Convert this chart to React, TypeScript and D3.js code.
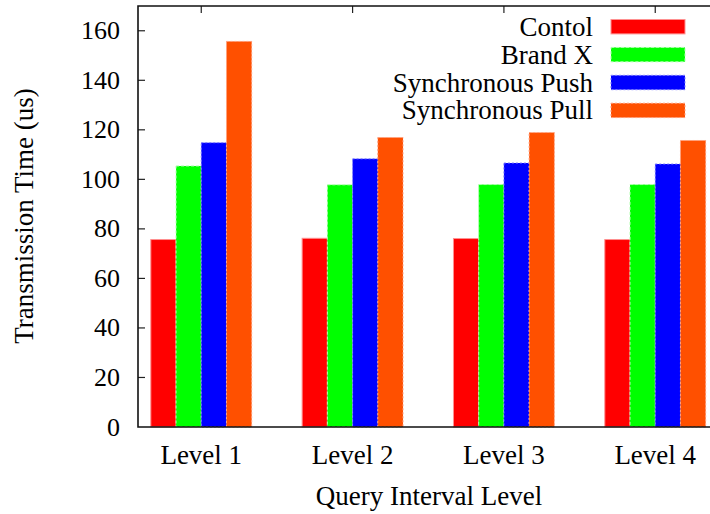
import React from "react";
import * as d3 from "d3";

const categories = ["Level 1", "Level 2", "Level 3", "Level 4"];
const seriesNames = ["Contol", "Brand X", "Synchronous Push", "Synchronous Pull"];
const contol = [75.7, 76.2, 76.1, 75.7];
const brandX = [105.4, 97.8, 97.9, 97.9];
const syncPush = [114.8, 108.3, 106.6, 106.2];
const syncPull = [155.7, 116.9, 118.9, 115.7];
const yTicks = [0, 20, 40, 60, 80, 100, 120, 140, 160];

const seriesValues = [contol, brandX, syncPush, syncPull];
const fills = ["#ff0000", "#00ff00", "#0000ff", "#ff5000"];
const strokes = ["#ff9090", "#b0ffb0", "#8080ff", "#ffa080"];
const dashes = ["none", "3,2", "2,2", "2,2"];

const W = 710;
const H = 514;
const left = 138;
const right = 718.5;
const top = 6;
const bottom = 427;
const FONT = "Liberation Serif, Times New Roman, Times, serif";
const txt: React.CSSProperties = { fontFamily: FONT };

export default function App() {
  const x = d3.scaleLinear().domain([-0.418, 3.418]).range([left, right]);
  const y = d3.scaleLinear().domain([0, 170]).range([bottom, top]);
  const unit = x(1) - x(0);
  const bw = unit / 6;
  const nS = seriesValues.length;

  return (
    <svg width={W} height={H} style={{ position: "absolute", left: 0, top: 0, background: "#fff" }}>
      <rect x={0} y={0} width={W} height={H} fill="#fff" />
      {seriesValues.map((vals, s) =>
        vals.map((v, i) => {
          const x0 = x(i) + (s - nS / 2) * bw;
          return (
            <rect
              key={`${s}-${i}`}
              x={x0}
              y={y(v)}
              width={bw}
              height={y(0) - y(v)}
              fill={fills[s]}
              stroke={strokes[s]}
              strokeWidth={1}
              strokeDasharray={dashes[s]}
            />
          );
        })
      )}
      {yTicks.map((t) => (
        <g key={t}>
          {t > 0 && <line x1={left} x2={left + 7} y1={y(t)} y2={y(t)} stroke="#222" strokeWidth={1.2} />}
          <text x={120} y={y(t)} textAnchor="end" dominantBaseline="central" style={txt} fontSize={26} fill="#000">
            {t}
          </text>
        </g>
      ))}
      {categories.map((c, i) => (
        <line key={c} x1={x(i)} x2={x(i)} y1={top} y2={top + 7} stroke="#222" strokeWidth={1.2} />
      ))}
      <path d={`M${left},${top} H${right} V${bottom} H${left} Z`} fill="none" stroke="#111" strokeWidth={1.6} />
      {categories.map((c, i) => (
        <text key={c} x={x(i)} y={464} textAnchor="middle" style={txt} fontSize={27} fill="#000">
          {c}
        </text>
      ))}
      <text x={429} y={505} textAnchor="middle" style={txt} fontSize={27} fill="#000">
        Query Interval Level
      </text>
      <text transform={`translate(33,216) rotate(-90)`} textAnchor="middle" style={txt} fontSize={27} fill="#000">
        Transmission Time (us)
      </text>
      {seriesNames.map((n, s) => {
        const cy = 26.7 + s * 27.9;
        return (
          <g key={n}>
            <text x={593} y={cy + 9} textAnchor="end" style={txt} fontSize={27} fill="#000">
              {n}
            </text>
            <rect
              x={611}
              y={cy - 7.2}
              width={74}
              height={14.4}
              fill={fills[s]}
              stroke={strokes[s]}
              strokeWidth={1}
              strokeDasharray={dashes[s]}
            />
          </g>
        );
      })}
    </svg>
  );
}
